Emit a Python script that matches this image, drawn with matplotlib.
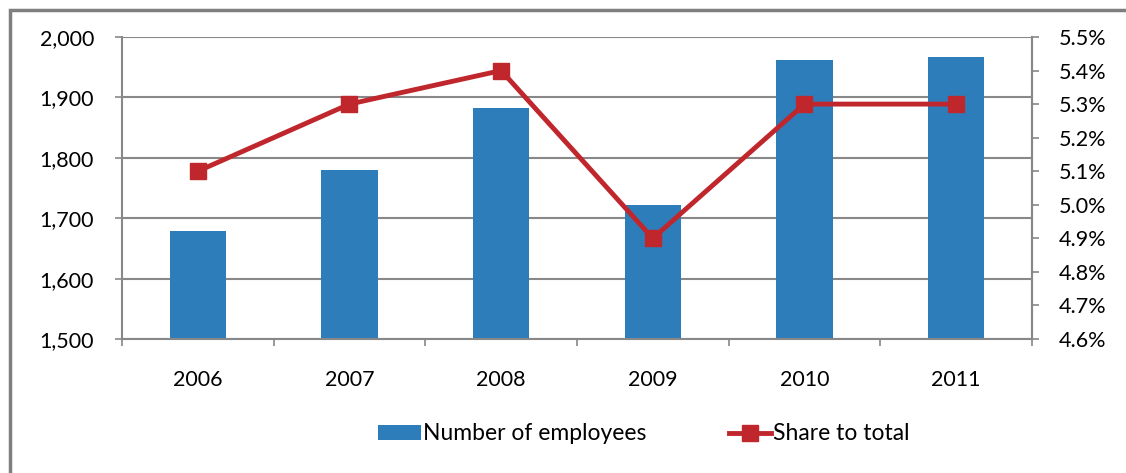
import matplotlib.pyplot as plt
import matplotlib.patches as mpatches
import numpy as np
from matplotlib.ticker import FuncFormatter, MultipleLocator

plt.rcParams['font.family'] = ['Lato', 'DejaVu Sans']

# Data
years = ['2006', '2007', '2008', '2009', '2010', '2011']
employees = [1678, 1779, 1883, 1722, 1962, 1967]
share = [5.1, 5.3, 5.4, 4.9, 5.3, 5.3]

bar_color = '#2E7DBB'
line_color = '#C0272D'
grid_color = '#888888'

fig = plt.figure(figsize=(11.26, 4.73), dpi=100)
ax = fig.add_axes([0.1083, 0.2833, 0.8082, 0.6385])

x = np.arange(len(years))
bars = ax.bar(x, employees, width=0.37, color=bar_color, zorder=2, label='Number of employees')
ax.set_ylim(1500, 2000)
ax.set_xlim(-0.5, len(years) - 0.5)
ax.yaxis.set_major_locator(MultipleLocator(100))
ax.yaxis.set_major_formatter(FuncFormatter(lambda v, p: f'{int(v):,}'))
ax.grid(axis='y', color=grid_color, linewidth=1.5, zorder=0)
ax.set_axisbelow(True)
ax.set_xticks(x)
ax.set_xticklabels(years)
ax.set_xticks(np.arange(-0.5, len(years)), minor=True)
ax.tick_params(axis='x', which='major', length=0, pad=22, labelsize=15.5)
ax.tick_params(axis='x', which='minor', length=5, width=1.2, color=grid_color, direction='out')
ax.tick_params(axis='y', length=5, width=1.2, color=grid_color, labelsize=15.5, pad=15)
ax.spines['top'].set_visible(False)
for s in ['left', 'bottom', 'right']:
    ax.spines[s].set_color(grid_color)
    ax.spines[s].set_linewidth(1.5)

ax2 = ax.twinx()
line, = ax2.plot(x, share, color=line_color, linewidth=3.5, marker='s', markersize=11,
                 zorder=3, label='Share to total')
ax2.set_ylim(4.6, 5.5)
ax2.yaxis.set_major_locator(MultipleLocator(0.1))
ax2.yaxis.set_major_formatter(FuncFormatter(lambda v, p: f'{v:.1f}%'))
ax2.tick_params(axis='y', length=5, width=1.2, color=grid_color, labelsize=15.5, pad=14)
for s in ['top', 'left', 'bottom']:
    ax2.spines[s].set_visible(False)
ax2.spines['right'].set_color(grid_color)
ax2.spines['right'].set_linewidth(1.5)

fig.legend(handles=[bars, line], loc='center', bbox_to_anchor=(0.572, 0.0825), ncol=2,
           frameon=False, fontsize=16.5, handlelength=1.85, handletextpad=0.1,
           columnspacing=3.6, handleheight=0.6)

# outer chart frame (runs off the right and bottom edge)
frame = mpatches.Rectangle((10 / 1126, -0.1), 1.2, 1 - 10 / 473 + 0.1, transform=fig.transFigure,
                           fill=False, edgecolor='#7F7F7F', linewidth=2.5)
fig.patches.append(frame)

fig.savefig('out.png', dpi=100)
